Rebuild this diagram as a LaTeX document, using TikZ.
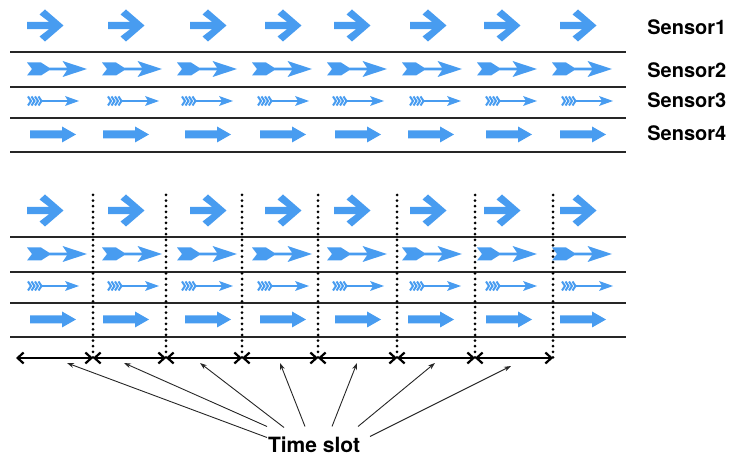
\documentclass[tikz,border=0pt]{standalone}
\usepackage{fontspec}
\setmainfont{TeX Gyre Heros}
\usepackage{tikz}
\usetikzlibrary{arrows.meta, calc}
\definecolor{arrowblue}{RGB}{72,156,240}

\begin{document}
\begin{tikzpicture}[
    x=0.5pt, y=-0.5pt,
    rowline/.style={line width=1pt, draw=black!85},
    dotline/.style={line width=1.5pt, line cap=round, dash pattern=on 0pt off 2.8pt},
    slotarrow/.style={line width=1.1pt, {Straight Barb[length=3pt,width=5.5pt]}-{Straight Barb[length=3pt,width=5.5pt]}},
    pointer/.style={line width=0.45pt, draw=black!85, -{Stealth[length=3.5pt,width=2.4pt]}},
    tag/.style={anchor=west, inner sep=0pt, font=\fontsize{10}{12}\selectfont\bfseries},
    chevron/.pic={\fill[arrowblue] (0,-3.7) -- (22,-3.7) -- (12.5,-11) -- (18,-16) -- (36.5,0) -- (18,16) -- (12.5,11) -- (22,3.7) -- (0,3.7) -- cycle;},
    feather/.pic={\fill[arrowblue] (0,-6.5) -- (14,-6.5) -- (22,-1.4) -- (40,-1.4) -- (35.5,-8) -- (60,0) -- (35.5,8) -- (40,1.4) -- (22,1.4) -- (14,6.5) -- (0,6.5) -- (5,0) -- cycle;},
    thinfeather/.pic={
        \foreach \k in {0,3.5,7,10.5} \draw[arrowblue, line width=1pt] (\k,-4.5) -- (\k+3,0) -- (\k,4.5);
        \draw[arrowblue, line width=0.7pt] (12,0) -- (40,0);
        \fill[arrowblue] (37,-5) -- (51,0) -- (37,5) -- (40,0) -- cycle;},
    block/.pic={\fill[arrowblue] (0,-4) -- (32,-4) -- (32,-8) -- (46,0) -- (32,8) -- (32,4) -- (0,4) -- cycle;}
]
\useasboundingbox (0,0) rectangle (729,454);

\foreach \dy in {0,185} {
    \foreach \x in {27,108,190,265,334,410,484,560} \pic at (\x,25.5+\dy) {chevron};
    \foreach \x in {27,102,177,252,327,402,477,552} \pic at (\x,69+\dy) {feather};
    \foreach \x in {28,108,182,258,333,410,486,562} \pic at (\x,101+\dy) {thinfeather};
    \foreach \x in {30,103,185,260,335,408,486,560} \pic at (\x,134.5+\dy) {block};
    \foreach \y in {52,87,118,152} \draw[rowline] (10,\y+\dy) -- (626,\y+\dy);
}

\node[tag] (s1) at (647,27.5) {Sensor1};
\node[tag] (s2) at (647,70) {Sensor2};
\node[tag] (s3) at (647,100) {Sensor3};
\node[tag] (s4) at (647,133.5) {Sensor4};

\foreach \x in {93,166,242,318,397,475,553} \draw[dotline] (\x,195) -- (\x,362);

\foreach \i/\x in {0/16,1/93,2/166,3/242,4/318,5/397,6/475,7/553} \coordinate (b\i) at (\x,358);
\foreach \i [evaluate=\i as \j using int(\i+1)] in {0,...,6} \draw[slotarrow] (b\i) -- (b\j);

\node[font=\fontsize{10.5}{12}\selectfont\bfseries, inner sep=0pt] (slot) at (314,444.5) {Time slot};

\foreach \i/\x/\y in {1/67/363, 2/124/363, 3/200/363, 4/280/363, 5/357/363, 6/435/363, 7/511/366} \coordinate (m\i) at (\x,\y);
\foreach \i/\sx/\sy in {1/-47/-7, 2/-47/-18, 3/-30/-17, 4/-9/-18, 5/18/-18, 6/44/-18, 7/56/-8}
    \draw[pointer] ([shift={(\sx,\sy)}]slot.center) -- (m\i);

\end{tikzpicture}
\end{document}
